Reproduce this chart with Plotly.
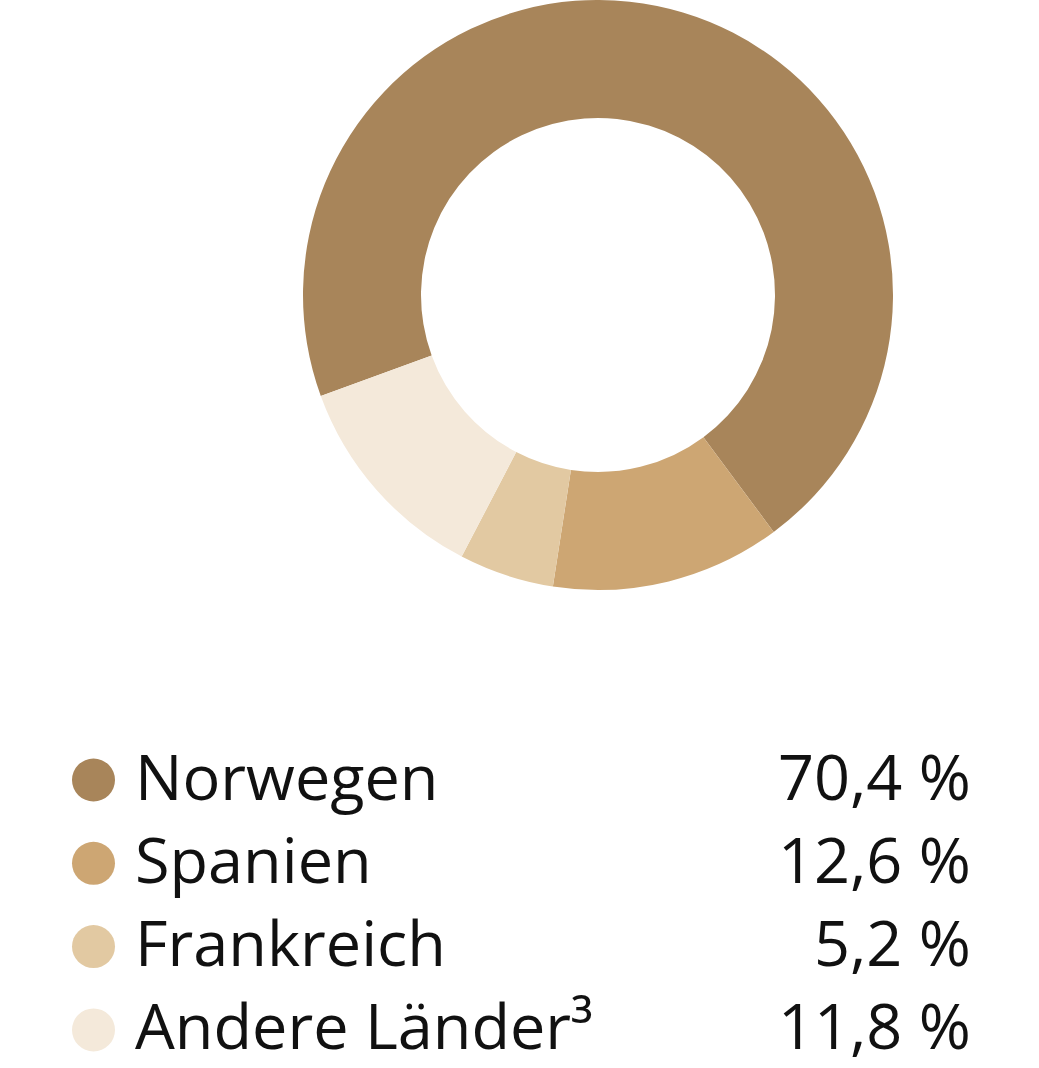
import plotly.graph_objects as go

labels = ["Norwegen", "Spanien", "Frankreich", "Andere Länder³"]
values = [70.4, 12.6, 5.2, 11.8]
value_labels = ["70,4 %", "12,6 %", "5,2 %", "11,8 %"]
colors = ["#A8855A", "#CDA673", "#E2C9A2", "#F4E9DA"]

W, H = 1039, 1068

fig = go.Figure()
fig.add_trace(go.Pie(
    labels=labels, values=values, hole=0.6, sort=False, direction="clockwise",
    rotation=250, marker=dict(colors=colors, line=dict(width=0)),
    textinfo="none", hoverinfo="label+percent",
    domain=dict(x=[303 / W, 893 / W], y=[1 - 590 / H, 1.0]),
    showlegend=False,
))

font = dict(family="Open Sans, Lato, sans-serif", size=63, color="#111111")
row0, step = 780, 83.3
shapes, annotations = [], []
for i, (lab, val, col) in enumerate(zip(labels, value_labels, colors)):
    yc = row0 + i * step
    r = 21.5
    shapes.append(dict(type="circle", xref="paper", yref="paper",
                       x0=(93.5 - r) / W, x1=(93.5 + r) / W,
                       y0=1 - (yc + r) / H, y1=1 - (yc - r) / H,
                       fillcolor=col, line=dict(width=0)))
    ty = 1 - (yc - 5) / H
    annotations.append(dict(text=lab, x=133 / W, y=ty, xref="paper", yref="paper",
                            xanchor="left", yanchor="middle", showarrow=False, font=font))
    annotations.append(dict(text=val, x=973 / W, y=ty, xref="paper", yref="paper",
                            xanchor="right", yanchor="middle", showarrow=False, font=font))

fig.update_layout(width=W, height=H, margin=dict(l=0, r=0, t=0, b=0),
                  paper_bgcolor="white", plot_bgcolor="white",
                  shapes=shapes, annotations=annotations)
fig.write_html("out.html", config={"displayModeBar": False},
               post_script="document.body.style.margin='0';document.body.style.overflow='hidden';")
